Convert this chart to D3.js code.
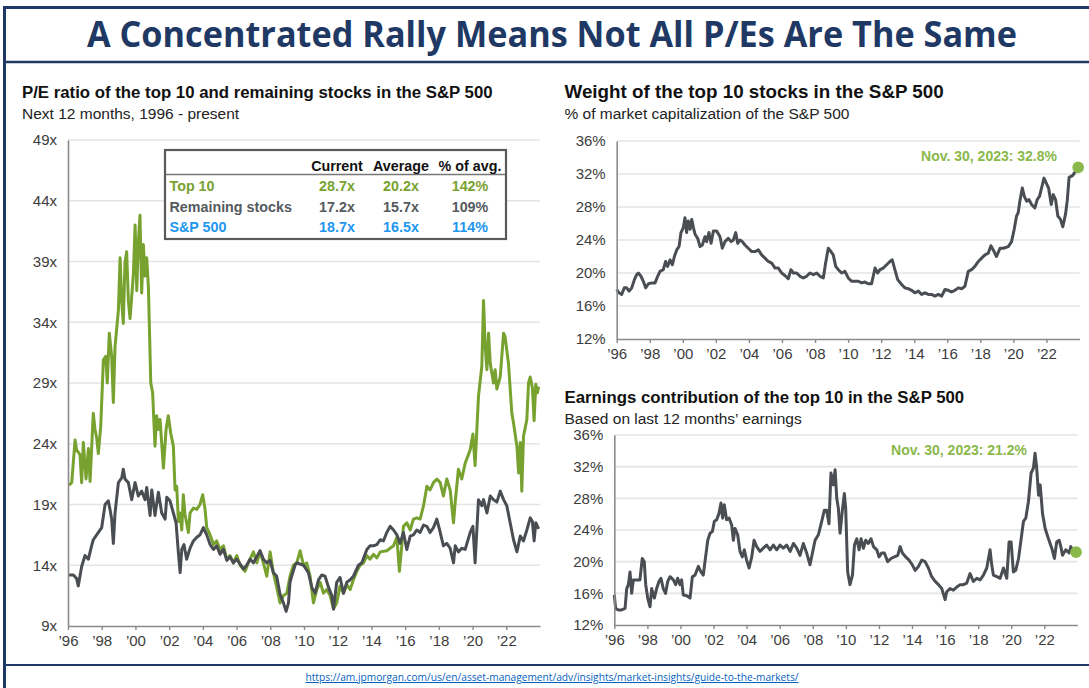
<!DOCTYPE html>
<html>
<head>
<meta charset="utf-8">
<script src="https://cdn.jsdelivr.net/npm/d3@7"></script>
<style>
  body { margin: 0; background: #fff; }
  svg { display: block; font-family: "Liberation Sans", Arial, sans-serif; }
</style>
</head>
<body>
<svg id="chart" width="1089" height="688"></svg>
<script>
(function() {

  var navy = "#203864", green = "#78a22f", gray = "#4a4e53", blue = "#2196f0", noteGreen = "#8ab84a";

  // tick labels
  var xYears = [1996, 1998, 2000, 2002, 2004, 2006, 2008, 2010, 2012, 2014, 2016, 2018, 2020, 2022];
  var peTicks = [9, 14, 19, 24, 29, 34, 39, 44, 49];
  var pctTicks = [12, 16, 20, 24, 28, 32, 36];

  // summary table
  var tableHeads = ["Current", "Average", "% of avg."];
  var tableRows = ["Top 10", "Remaining stocks", "S&P 500"];
  var tableCurrent = ["28.7x", "17.2x", "18.7x"];
  var tableAverage = ["20.2x", "15.7x", "16.5x"];
  var tablePct = ["142%", "109%", "114%"];

  // P/E of the top 10
  var top10Dates = [1996.06,1996.22,1996.42,1996.51,1996.71,1996.81,1996.91,1997.07,1997.21,1997.31,1997.50,1997.60,1997.70,1997.80,1997.94,
    1998.10,1998.24,1998.33,1998.45,1998.59,1998.69,1998.79,1998.99,1999.09,1999.19,1999.28,1999.38,1999.48,1999.58,1999.68,1999.78,1999.88,1999.98,
    2000.08,2000.17,2000.27,2000.37,2000.47,2000.57,2000.67,2000.77,2000.91,2001.02,2001.16,2001.26,2001.36,2001.46,2001.66,2001.82,2001.95,
    2002.09,2002.25,2002.35,2002.45,2002.55,2002.65,2002.75,2002.84,2002.94,2003.14,2003.24,2003.44,2003.64,2003.83,2003.99,
    2004.13,2004.23,2004.43,2004.63,2004.82,2005.02,2005.22,2005.42,2005.61,2005.81,2006.01,2006.21,2006.50,2006.70,2007.00,2007.20,2007.39,2007.59,2007.79,2007.99,
    2008.18,2008.38,2008.58,2008.78,2008.98,2009.17,2009.37,2009.57,2009.77,2009.97,2010.16,2010.36,2010.56,2010.76,2010.96,
    2011.15,2011.35,2011.55,2011.75,2011.94,2012.14,2012.34,2012.54,2012.74,2012.93,2013.13,2013.33,2013.53,2013.73,2013.92,
    2014.12,2014.32,2014.52,2014.91,2015.11,2015.31,2015.51,2015.66,2015.80,2015.90,2016.10,2016.30,2016.49,2016.69,2016.89,
    2017.09,2017.29,2017.48,2017.68,2017.88,2018.08,2018.27,2018.47,2018.67,2018.87,2018.97,2019.16,2019.36,2019.56,2019.86,
    2020.02,2020.15,2020.35,2020.55,2020.65,2020.75,2020.85,2020.95,2021.05,2021.24,2021.34,2021.44,2021.64,2021.84,2021.93,
    2022.13,2022.33,2022.43,2022.63,2022.73,2022.83,2022.92,2023.02,2023.22,2023.32,2023.42,2023.55,2023.65,2023.75,2023.85,2023.92];
  var top10PE = [20.6,20.8,24.3,23.5,23.1,20.8,24.1,21.1,23.6,20.9,26.5,25.2,24.5,23.2,25.4,
    30.9,31.2,29.0,33.1,31.2,27.4,32.0,35.0,39.3,35.6,33.9,38.9,39.8,35.8,34.3,36.1,38.0,42.0,
    36.6,40.5,42.8,36.4,40.4,37.8,39.3,36.9,29.0,28.2,23.8,26.3,25.2,26.0,22.0,25.2,26.3,
    24.9,23.8,20.2,20.5,17.6,18.3,16.9,19.8,18.2,16.7,18.3,18.7,18.6,19.0,19.8,
    18.6,17.1,16.5,15.7,16.0,15.3,15.6,14.5,14.8,14.2,14.8,14.0,13.5,14.2,15.1,14.2,15.1,14.2,13.1,15.1,
    13.4,12.2,10.9,11.5,11.7,13.1,14.0,14.2,15.2,14.0,14.2,13.1,10.9,12.0,12.6,
    11.7,12.0,11.5,10.4,10.9,12.3,11.7,12.4,12.0,12.8,13.5,14.0,14.2,14.8,14.5,
    14.9,14.6,15.1,15.2,15.4,15.6,16.3,13.5,15.6,17.2,17.5,16.9,17.8,17.9,17.8,
    18.9,20.5,20.2,20.8,21.1,20.8,19.7,21.1,20.2,17.5,19.2,21.9,21.1,22.4,23.5,
    24.8,22.2,27.9,30.4,35.8,32.0,30.1,33.1,30.6,29.0,30.1,28.5,29.5,33.1,32.8,
    30.6,26.5,25.7,23.8,21.6,24.1,20.1,24.6,26.0,29.0,29.5,28.6,25.9,28.9,28.2,28.7];

  // P/E of the remaining stocks
  var restDates = [1996.06,1996.32,1996.51,1996.61,1996.81,1997.01,1997.21,1997.40,1997.50,1997.70,1998.00,1998.20,1998.39,1998.49,1998.59,1998.69,1998.79,1998.99,
    1999.19,1999.28,1999.38,1999.58,1999.78,1999.98,2000.17,2000.37,2000.57,2000.67,2000.87,2000.97,2001.16,2001.36,2001.56,2001.76,2001.86,
    2002.05,2002.25,2002.41,2002.55,2002.65,2002.75,2002.88,2003.04,2003.24,2003.44,2003.64,2003.83,2004.03,2004.23,2004.43,2004.63,2004.82,
    2005.02,2005.22,2005.42,2005.61,2005.81,2006.01,2006.21,2006.41,2006.60,2006.80,2007.00,2007.20,2007.39,2007.59,2007.79,2007.99,
    2008.18,2008.38,2008.58,2008.78,2008.94,2009.08,2009.17,2009.27,2009.47,2009.57,2009.97,2010.26,2010.46,2010.66,2010.86,
    2011.05,2011.25,2011.45,2011.65,2011.75,2011.94,2012.14,2012.34,2012.54,2012.74,2012.93,2013.23,2013.43,2013.73,2013.92,
    2014.12,2014.32,2014.52,2014.71,2014.91,2015.11,2015.31,2015.51,2015.70,2015.90,2016.10,2016.30,2016.49,2016.69,2016.89,
    2017.09,2017.29,2017.48,2017.68,2017.88,2018.08,2018.27,2018.47,2018.67,2018.87,2018.97,2019.16,2019.36,2019.56,2019.86,
    2020.02,2020.15,2020.35,2020.55,2020.65,2020.85,2021.05,2021.24,2021.44,2021.64,2021.84,2022.03,2022.23,2022.43,2022.63,2022.83,
    2023.02,2023.22,2023.42,2023.55,2023.65,2023.75,2023.92];
  var restPE = [13.2,13.2,12.9,12.3,13.9,14.8,14.5,15.6,16.1,16.5,17.1,19.0,19.3,18.6,17.8,15.8,18.3,20.8,
    21.2,21.9,21.1,20.8,19.4,20.8,19.7,20.1,19.4,20.4,18.1,20.2,18.1,20.0,18.3,17.8,19.6,
    19.3,18.3,17.5,15.0,13.4,15.3,15.7,14.5,15.4,16.0,16.3,16.5,17.1,16.5,15.7,15.3,15.6,
    14.9,15.3,14.4,14.7,14.2,14.5,14.1,13.7,14.0,14.5,14.2,14.7,15.2,14.5,14.2,14.4,
    13.4,13.1,11.6,10.9,10.2,10.9,12.6,13.1,14.0,14.2,14.0,13.4,12.2,11.7,12.8,
    13.2,13.1,12.2,11.5,10.4,12.6,13.0,11.7,12.6,12.8,13.1,14.0,14.2,15.3,15.6,
    15.6,15.7,16.1,16.0,16.7,17.2,16.9,16.5,15.8,16.7,15.3,16.4,16.5,16.9,16.7,
    17.3,17.2,16.7,17.1,17.8,16.7,15.6,15.8,15.4,14.2,15.6,15.1,15.4,15.3,16.7,
    17.2,14.2,19.4,18.9,19.4,18.3,19.7,19.4,19.2,20.1,19.4,18.9,17.5,16.1,15.1,16.4,
    16.0,16.9,17.9,17.6,16.0,17.5,17.0];

  // weight of the top 10 in the S&P 500, %
  var weightDates = [1996.00,1996.14,1996.30,1996.46,1996.60,1996.75,1996.91,1997.07,1997.21,1997.31,1997.47,1997.61,1997.75,1997.92,
    1998.12,1998.32,1998.48,1998.62,1998.82,1998.96,1999.08,1999.23,1999.37,1999.49,1999.63,1999.77,1999.89,
    2000.03,2000.13,2000.23,2000.33,2000.44,2000.54,2000.64,2000.74,2000.90,2001.04,2001.18,2001.34,2001.44,2001.58,2001.71,2001.85,
    2002.05,2002.25,2002.39,2002.55,2002.75,2002.92,2003.06,2003.20,2003.32,2003.46,2003.60,2003.76,2003.96,
    2004.17,2004.37,2004.57,2004.77,2004.97,2005.17,2005.38,2005.58,2005.78,2005.98,2006.18,2006.38,2006.54,2006.69,2006.89,
    2007.09,2007.29,2007.49,2007.69,2007.90,2008.10,2008.30,2008.50,2008.64,2008.80,2008.96,2009.10,2009.25,2009.41,2009.61,2009.81,
    2010.01,2010.21,2010.42,2010.62,2010.82,2011.02,2011.22,2011.42,2011.63,2011.79,2011.93,2012.13,2012.33,2012.53,2012.67,2012.83,
    2013.00,2013.24,2013.44,2013.64,2013.84,2014.04,2014.25,2014.45,2014.65,2014.85,2015.05,2015.25,2015.46,2015.66,2015.86,
    2016.06,2016.26,2016.46,2016.67,2016.87,2017.07,2017.27,2017.47,2017.67,2017.88,2018.08,2018.28,2018.48,2018.64,2018.78,2018.98,
    2019.19,2019.39,2019.69,2019.89,2020.05,2020.19,2020.29,2020.39,2020.54,2020.66,2020.80,2020.94,2021.10,2021.30,2021.44,2021.58,2021.73,2021.85,2021.99,
    2022.13,2022.29,2022.41,2022.55,2022.69,2022.85,2022.99,2023.16,2023.26,2023.37,2023.58,2023.79,2023.92];
  var weightPct = [18.0,17.6,17.4,18.2,18.2,17.8,18.2,19.2,19.8,20.0,19.6,19.0,18.2,18.7,
    18.8,18.8,19.6,20.2,20.4,21.4,20.8,21.6,21.0,22.0,22.8,23.2,24.9,
    25.5,26.7,24.9,26.3,25.3,26.5,25.5,24.7,24.2,23.2,23.4,24.4,23.8,24.9,23.6,25.1,
    25.1,24.4,23.0,23.8,24.2,23.8,24.0,24.9,23.6,24.0,23.8,23.4,23.0,
    22.6,22.6,22.8,22.2,21.8,21.4,21.2,20.6,20.6,20.0,19.7,19.3,20.4,20.0,20.0,
    19.6,19.4,19.6,20.0,19.8,20.0,19.6,19.4,21.2,23.0,22.6,22.2,20.8,20.4,20.0,20.2,
    19.4,19.0,19.0,19.0,18.8,18.9,18.7,18.7,20.6,20.0,20.4,20.6,21.0,21.4,21.6,20.4,
    19.2,18.6,18.2,18.1,17.9,17.6,17.8,17.4,17.6,17.4,17.4,17.2,17.4,17.2,18.0,
    17.9,17.7,17.9,18.2,18.1,18.4,20.2,20.4,20.8,21.4,21.8,22.2,22.4,23.3,22.8,22.0,
    23.0,23.0,23.2,23.8,25.3,26.9,27.3,28.7,30.3,29.3,28.7,28.9,28.3,27.9,28.9,29.3,30.5,31.5,30.9,
    30.3,28.3,29.5,28.9,26.9,26.5,25.6,27.2,28.8,31.6,31.8,32.4,32.8];

  // earnings contribution of the top 10, %
  var earnDates = [1996.00,1996.08,1996.24,1996.44,1996.65,1996.75,1996.85,1996.95,1997.05,1997.15,1997.35,1997.55,1997.69,1997.81,1997.90,
    1998.02,1998.16,1998.26,1998.42,1998.56,1998.70,1998.82,1998.96,1999.10,1999.23,1999.37,1999.57,1999.71,1999.83,1999.97,
    2000.07,2000.17,2000.38,2000.58,2000.72,2000.88,2001.08,2001.24,2001.38,2001.52,2001.65,2001.79,2001.93,
    2002.05,2002.19,2002.33,2002.45,2002.55,2002.65,2002.79,2002.94,2003.10,2003.20,2003.30,2003.46,2003.60,2003.74,2003.86,
    2004.00,2004.15,2004.31,2004.45,2004.61,2004.81,2005.01,2005.21,2005.42,2005.62,2005.82,2006.02,2006.22,2006.42,2006.63,2006.83,
    2007.03,2007.23,2007.43,2007.63,2007.83,2007.98,2008.14,2008.34,2008.54,2008.70,2008.84,2008.98,2009.10,2009.25,2009.35,2009.45,2009.55,2009.65,2009.79,2009.91,2009.99,
    2010.11,2010.25,2010.40,2010.52,2010.66,2010.80,2010.92,2011.06,2011.20,2011.36,2011.52,2011.67,2011.87,
    2012.01,2012.17,2012.33,2012.53,2012.73,2012.94,2013.14,2013.28,2013.42,2013.62,2013.82,2014.02,2014.19,2014.39,2014.59,2014.79,2014.99,
    2015.19,2015.40,2015.60,2015.80,2016.00,2016.10,2016.30,2016.50,2016.71,2016.91,2017.11,2017.31,2017.51,2017.71,2017.92,
    2018.12,2018.32,2018.52,2018.72,2018.82,2018.92,2019.13,2019.33,2019.53,2019.73,2019.87,2019.99,2020.13,2020.27,2020.44,2020.60,2020.74,2020.88,
    2021.04,2021.20,2021.34,2021.44,2021.54,2021.65,2021.75,2021.89,2022.05,2022.25,2022.45,2022.61,2022.75,2022.90,
    2023.00,2023.10,2023.30,2023.50,2023.60,2023.72,2023.92];
  var earnPct = [15.8,14.1,13.9,13.9,14.1,16.6,17.1,18.7,16.0,17.7,17.7,17.7,20.4,20.0,17.1,
    15.4,14.3,16.6,15.4,16.6,17.5,17.9,16.6,16.0,17.5,18.1,17.7,17.1,17.9,17.1,
    17.7,15.8,15.7,15.4,18.1,18.3,19.4,18.7,18.3,20.6,22.7,23.6,23.8,
    25.1,25.3,26.1,27.4,25.5,27.2,25.3,25.5,24.6,22.7,24.2,23.4,21.3,20.6,21.5,
    20.2,19.2,20.6,22.7,21.9,21.3,21.7,22.1,21.5,22.1,21.5,22.1,21.7,22.1,21.3,22.3,
    21.7,20.8,22.3,21.1,19.6,21.1,22.7,23.4,25.1,26.5,26.5,24.8,31.2,29.7,31.6,28.0,26.7,23.6,26.5,28.6,26.7,
    18.7,17.1,18.3,22.1,22.9,21.5,22.9,21.7,22.7,22.3,22.9,21.9,21.5,
    20.6,21.1,21.1,20.0,20.4,20.6,20.8,21.9,21.1,20.6,20.2,19.6,18.9,19.4,20.2,20.0,19.2,
    18.1,17.5,17.1,16.6,15.2,16.2,16.6,16.4,16.8,17.1,17.1,17.3,18.5,17.5,17.9,
    17.7,18.3,19.2,21.5,19.6,18.3,18.1,17.9,19.2,17.9,22.5,22.5,18.7,18.9,20.4,22.9,25.1,25.5,
    27.6,31.2,31.8,33.7,31.8,28.4,29.7,26.1,24.2,22.9,21.7,20.4,22.5,22.7,
    21.9,20.8,21.5,21.1,21.9,21.3,21.2];

  var svg = d3.select("#chart");

  // outer frame
  svg.append("line").attr("x1", 3).attr("x2", 1089).attr("y1", 7.5).attr("y2", 7.5)
    .attr("stroke", navy).attr("stroke-width", 3);
  svg.append("line").attr("x1", 4.5).attr("x2", 4.5).attr("y1", 6).attr("y2", 688)
    .attr("stroke", navy).attr("stroke-width", 3);
  svg.append("line").attr("x1", 4).attr("x2", 1089).attr("y1", 62).attr("y2", 62)
    .attr("stroke", navy).attr("stroke-width", 2.5);
  svg.append("line").attr("x1", 4).attr("x2", 1089).attr("y1", 665).attr("y2", 665)
    .attr("stroke", navy).attr("stroke-width", 2);

  svg.append("text")
    .attr("x", 552).attr("y", 47)
    .attr("text-anchor", "middle")
    .attr("textLength", 930).attr("lengthAdjust", "spacingAndGlyphs")
    .style("font-family", "'Open Sans', sans-serif")
    .style("font-weight", "bold").style("font-size", "35px")
    .style("fill", navy)
    .text("A Concentrated Rally Means Not All P/Es Are The Same");

  svg.append("text")
    .attr("x", 552).attr("y", 681)
    .attr("text-anchor", "middle")
    .attr("textLength", 493).attr("lengthAdjust", "spacingAndGlyphs")
    .style("font-family", "'Open Sans', sans-serif")
    .style("font-size", "10.5px").style("fill", "#0563c1")
    .style("text-decoration", "underline")
    .text("https://am.jpmorgan.com/us/en/asset-management/adv/insights/market-insights/guide-to-the-markets/");

  function heading(x, y, title, sub, size) {
    svg.append("text").attr("x", x).attr("y", y)
      .style("font-weight", "bold").style("font-size", (size || 16.8) + "px").style("fill", "#111")
      .text(title);
    svg.append("text").attr("x", x).attr("y", y + 21)
      .style("font-size", "15.5px").style("fill", "#222")
      .text(sub);
  }

  function panel(opts) {
    var x = d3.scaleLinear().domain([1996, 2024]).range(opts.xRange);
    var y = d3.scaleLinear()
      .domain([opts.yTicks[0], opts.yTicks[opts.yTicks.length - 1]])
      .range(opts.yRange);
    var g = svg.append("g");

    g.selectAll("line.grid")
      .data(opts.yTicks.slice(1))
      .enter().append("line")
        .attr("class", "grid")
        .attr("x1", opts.xRange[0]).attr("x2", opts.xRange[1])
        .attr("y1", function(d) { return y(d); })
        .attr("y2", function(d) { return y(d); })
        .attr("stroke", "#e4e4e4")
        .attr("stroke-width", 1.6);

    var line = d3.line()
      .x(function(d) { return x(d[0]); })
      .y(function(d) { return y(d[1]); });

    opts.series.forEach(function(s) {
      g.append("path")
        .datum(d3.zip(s.dates, s.values))
        .attr("d", line)
        .attr("fill", "none")
        .attr("stroke", s.color)
        .attr("stroke-width", 3)
        .attr("stroke-linejoin", "round");
    });

    var yAxis = g.append("g")
      .attr("transform", "translate(" + opts.xRange[0] + ",0)")
      .call(d3.axisLeft(y).tickValues(opts.yTicks).tickSize(0).tickSizeOuter(0)
        .tickPadding(11).tickFormat(opts.yFormat));

    var xAxis = g.append("g")
      .attr("transform", "translate(0," + opts.yRange[0] + ")")
      .call(d3.axisBottom(x).tickValues(xYears).tickSize(4).tickSizeOuter(0)
        .tickPadding(5).tickFormat(function(d) { return "\u2019" + String(d).slice(2); }));

    [yAxis, xAxis].forEach(function(a) {
      a.select(".domain").attr("stroke", "#8a8a8a").attr("stroke-width", 1.6);
      a.selectAll(".tick line").attr("stroke", "#8a8a8a").attr("stroke-width", 1.4);
      a.selectAll("text")
        .attr("font-family", "'Liberation Sans', Arial, sans-serif")
        .attr("font-size", "15px")
        .attr("fill", "#3c3c3c");
    });

    return { x: x, y: y, g: g };
  }

  // left panel: P/E ratios
  heading(22, 98, "P/E ratio of the top 10 and remaining stocks in the S&P 500", "Next 12 months, 1996 - present");
  panel({
    xRange: [68, 540], yRange: [626, 140],
    yTicks: peTicks, yFormat: function(d) { return d + "x"; },
    series: [
      { dates: top10Dates, values: top10PE, color: green },
      { dates: restDates, values: restPE, color: gray }
    ]
  });

  // summary table
  var colX = [337, 401, 470];
  var rowY = [191, 211.5, 232];
  var rowColor = [green, "#555a5f", blue];
  var table = svg.append("g");
  table.append("rect")
    .attr("x", 165).attr("y", 150).attr("width", 341).attr("height", 89)
    .attr("fill", "#fff").attr("stroke", "#5a5a5a").attr("stroke-width", 2.2);
  table.append("line")
    .attr("x1", 166).attr("x2", 505).attr("y1", 174.5).attr("y2", 174.5)
    .attr("stroke", "#777").attr("stroke-width", 1.5);
  table.selectAll("text.head")
    .data(tableHeads)
    .enter().append("text")
      .attr("class", "head")
      .attr("x", function(d, i) { return colX[i]; })
      .attr("y", 171)
      .attr("text-anchor", "middle")
      .style("font-weight", "bold").style("font-size", "14.3px").style("fill", "#111")
      .text(function(d) { return d; });
  tableRows.forEach(function(name, i) {
    var cells = [tableCurrent[i], tableAverage[i], tablePct[i]];
    table.append("text")
      .attr("x", 169.5).attr("y", rowY[i])
      .style("font-weight", "bold").style("font-size", "14.3px").style("fill", rowColor[i])
      .text(name);
    table.selectAll("text.r" + i)
      .data(cells)
      .enter().append("text")
        .attr("class", "r" + i)
        .attr("x", function(d, j) { return colX[j]; })
        .attr("y", rowY[i])
        .attr("text-anchor", "middle")
        .style("font-weight", "bold").style("font-size", "14.3px").style("fill", rowColor[i])
        .text(function(d) { return d; });
  });

  // right top: weight
  heading(564.5, 98, "Weight of the top 10 stocks in the S&P 500", "% of market capitalization of the S&P 500", 18.8);
  var top = panel({
    xRange: [616.7, 1079.5], yRange: [339, 141],
    yTicks: pctTicks, yFormat: function(d) { return d + "%"; },
    series: [{ dates: weightDates, values: weightPct, color: gray }]
  });

  // right bottom: earnings
  heading(564.5, 403, "Earnings contribution of the top 10 in the S&P 500", "Based on last 12 months\u2019 earnings");
  var bottom = panel({
    xRange: [614.3, 1077.4], yRange: [625, 435],
    yTicks: pctTicks, yFormat: function(d) { return d + "%"; },
    series: [{ dates: earnDates, values: earnPct, color: gray }]
  });

  function lastPoint(p, dates, values, noteX, noteY) {
    var n = dates.length - 1;
    p.g.append("circle")
      .attr("cx", p.x(dates[n])).attr("cy", p.y(values[n]))
      .attr("r", 5.8).attr("fill", noteGreen);
    p.g.append("text")
      .attr("x", noteX).attr("y", noteY)
      .attr("text-anchor", "end")
      .style("font-weight", "bold").style("font-size", "14px").style("fill", noteGreen)
      .text("Nov. 30, 2023: " + values[n].toFixed(1) + "%");
  }
  lastPoint(top, weightDates, weightPct, 1057, 161);
  lastPoint(bottom, earnDates, earnPct, 1027, 455);

})();
</script>
</body>
</html>
